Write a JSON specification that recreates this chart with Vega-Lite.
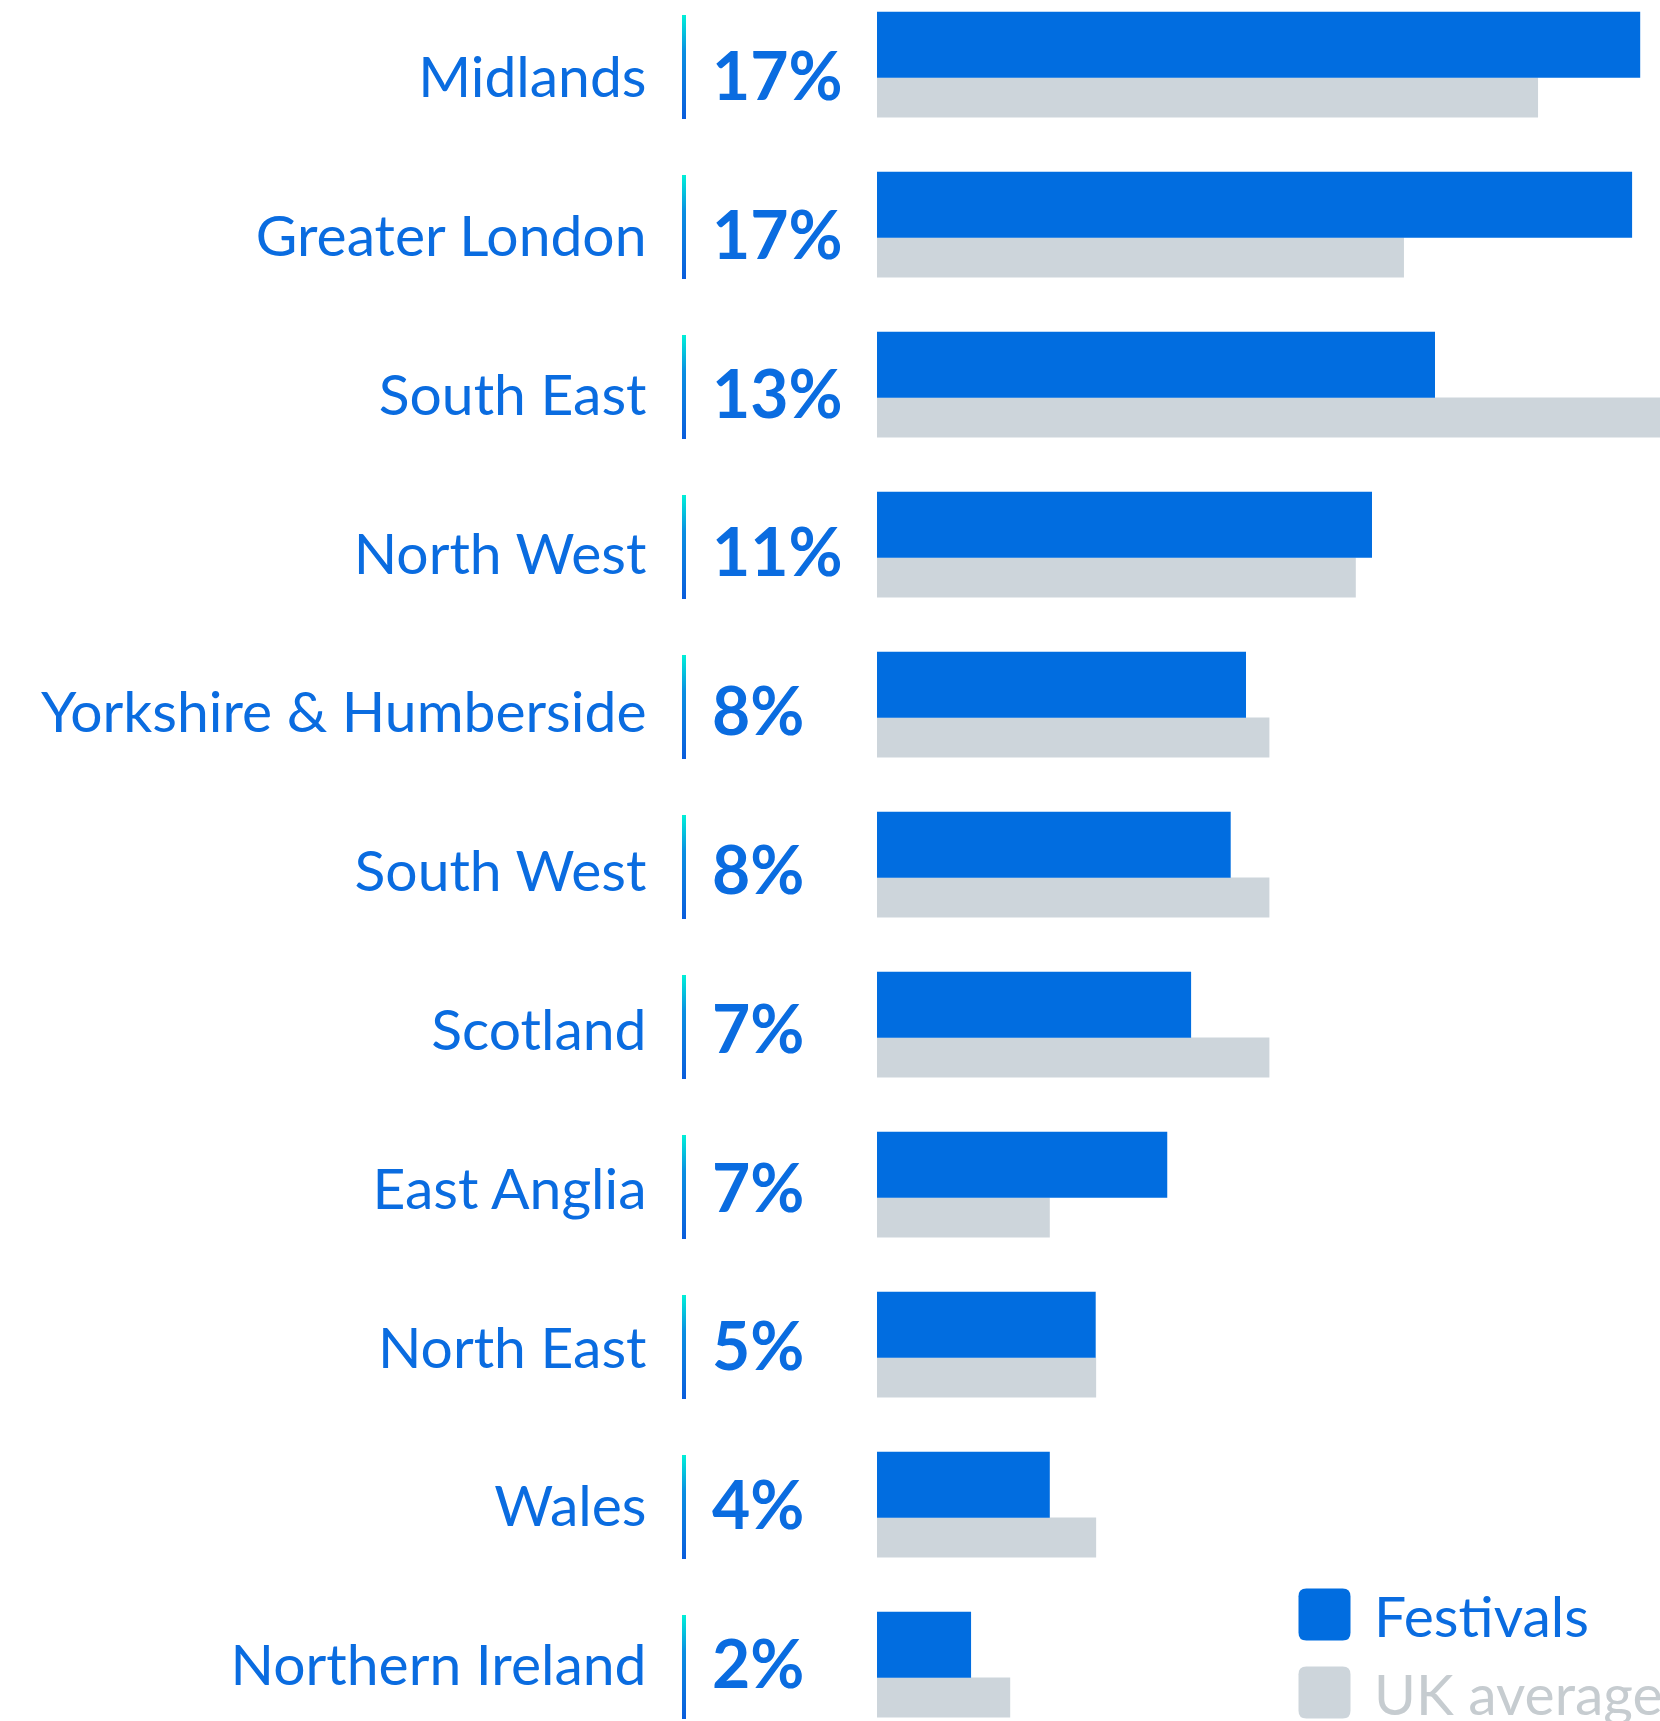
{
  "$schema": "https://vega.github.io/schema/vega-lite/v6.json",
  "autosize": {"type": "none"},
  "padding": {"left": 682, "top": 0, "right": 0, "bottom": 0},
  "width": 978,
  "height": 1721,
  "background": "white",
  "config": {"view": {"stroke": null}, "font": "Lato"},
  "data": {
    "values": [
      {"region": "Midlands", "festivals": 16.96, "uk": 14.69, "pct": "17%"},
      {"region": "Greater London", "festivals": 16.78, "uk": 11.71, "pct": "17%"},
      {"region": "South East", "festivals": 12.4, "uk": 18.5, "pct": "13%"},
      {"region": "North West", "festivals": 11.0, "uk": 10.64, "pct": "11%"},
      {"region": "Yorkshire & Humberside", "festivals": 8.2, "uk": 8.72, "pct": "8%"},
      {"region": "South West", "festivals": 7.86, "uk": 8.72, "pct": "8%"},
      {"region": "Scotland", "festivals": 6.98, "uk": 8.72, "pct": "7%"},
      {"region": "East Anglia", "festivals": 6.45, "uk": 3.84, "pct": "7%"},
      {"region": "North East", "festivals": 4.86, "uk": 4.87, "pct": "5%"},
      {"region": "Wales", "festivals": 3.84, "uk": 4.87, "pct": "4%"},
      {"region": "Northern Ireland", "festivals": 2.09, "uk": 2.96, "pct": "2%"}
    ]
  },
  "layer": [
    {
      "mark": {
        "type": "bar",
        "height": 104,
        "yOffset": -13,
        "color": {
          "gradient": "linear",
          "x1": 0, "y1": 0, "x2": 0, "y2": 1,
          "stops": [
            {"offset": 0, "color": "#00f0d8"},
            {"offset": 0.35, "color": "#0a8fe2"},
            {"offset": 1, "color": "#0a5cdc"}
          ]
        }
      },
      "encoding": {
        "y": {"field": "region", "type": "nominal", "sort": null,
              "scale": {"range": [0, 1760], "paddingInner": 0, "paddingOuter": 0}, "axis": null},
        "x": {"value": 0},
        "x2": {"value": 4}
      }
    },
    {
      "mark": {"type": "bar", "height": 40, "yOffset": 17.5, "clip": true},
      "encoding": {
        "y": {"field": "region", "type": "nominal", "sort": null,
              "scale": {"range": [0, 1760], "paddingInner": 0, "paddingOuter": 0}, "axis": null},
        "x": {"field": "uk", "type": "quantitative",
              "scale": {"domain": [0, 17.4], "range": [195, 978]}, "axis": null},
        "color": {"datum": "UK average", "type": "nominal",
                  "scale": {"domain": ["Festivals", "UK average"], "range": ["#016de0", "#cdd5db"]},
                  "legend": {
                    "orient": "none",
                    "legendX": 614,
                    "legendY": 1586,
                    "title": null,
                    "padding": 0,
                    "symbolType": "M -0.7 -1 L 0.7 -1 Q 1 -1 1 -0.7 L 1 0.7 Q 1 1 0.7 1 L -0.7 1 Q -1 1 -1 0.7 L -1 -0.7 Q -1 -1 -0.7 -1 Z",
                    "symbolSize": 2704,
                    "symbolStrokeWidth": 0,
                    "symbolOpacity": 1,
                    "labelFont": "Lato",
                    "labelFontSize": 57,
                    "labelOffset": 21,
                    "labelLimit": 0,
                    "rowPadding": 16,
                    "encode": {
                      "labels": {"update": {
                        "fill": {"signal": "datum.label === 'Festivals' ? '#0a6ce0' : '#c6ccd0'"},
                        "dy": {"value": 5}
                      }}
                    }
                  }}
      }
    },
    {
      "mark": {"type": "bar", "height": 66, "yOffset": -35.3, "clip": true},
      "encoding": {
        "y": {"field": "region", "type": "nominal", "sort": null,
              "scale": {"range": [0, 1760], "paddingInner": 0, "paddingOuter": 0}, "axis": null},
        "x": {"field": "festivals", "type": "quantitative",
              "scale": {"domain": [0, 17.4], "range": [195, 978]}, "axis": null},
        "color": {"datum": "Festivals", "type": "nominal"}
      }
    },
    {
      "mark": {"type": "text", "align": "left", "baseline": "alphabetic", "dy": 20.6,
               "font": "Lato", "fontSize": 66, "fontWeight": "bold", "color": "#0a6ce0"},
      "encoding": {
        "y": {"field": "region", "type": "nominal", "sort": null,
              "scale": {"range": [0, 1746.8], "paddingInner": 0, "paddingOuter": 0},
              "axis": {
                "orient": "left",
                "title": null,
                "ticks": false,
                "domain": false,
                "grid": false,
                "labelFont": "Lato",
                "labelFontSize": 57,
                "labelColor": "#0a6ce0",
                "labelPadding": 36,
                "labelAlign": "right",
                "labelBaseline": "alphabetic",
                "labelOffset": 17.3,
                "labelLimit": 0
              }},
        "x": {"value": 30},
        "text": {"field": "pct"}
      }
    }
  ],
  "resolve": {"scale": {"y": "independent"}}
}
